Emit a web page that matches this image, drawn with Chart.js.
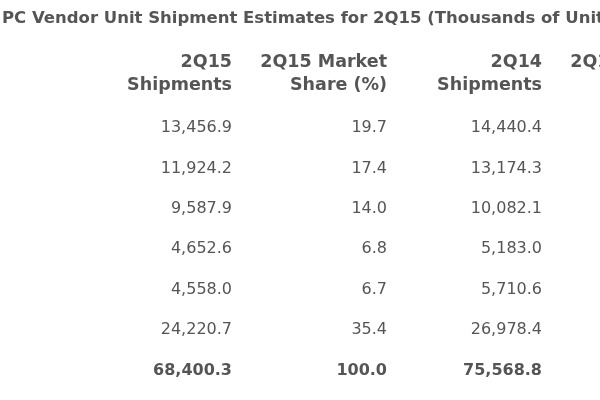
<!DOCTYPE html>
<html>
<head>
<meta charset="utf-8">
<script src="https://cdn.jsdelivr.net/npm/chart.js@4"></script>
<style>
  html, body { margin: 0; padding: 0; background: #fff; }
  #wrap { width: 600px; height: 400px; }
</style>
</head>
<body>
<div id="wrap"><canvas id="c"></canvas></div>
<script>
const TITLE = 'PC Vendor Unit Shipment Estimates for 2Q15 (Thousands of Units)';
const HEADERS = [
  ['2Q15', 'Shipments'],
  ['2Q15 Market', 'Share (%)'],
  ['2Q14', 'Shipments'],
  ['2Q14 Market', 'Share (%)']
];
const shipments2Q15 = ['13,456.9', '11,924.2', '9,587.9', '4,652.6', '4,558.0', '24,220.7', '68,400.3'];
const share2Q15 = ['19.7', '17.4', '14.0', '6.8', '6.7', '35.4', '100.0'];
const shipments2Q14 = ['14,440.4', '13,174.3', '10,082.1', '5,183.0', '5,710.6', '26,978.4', '75,568.8'];
const columns = [shipments2Q15, share2Q15, shipments2Q14];

const TEXT = '#555';
const FONT = '"DejaVu Sans", Verdana, sans-serif';

// one invisible point per cell; the plugin writes the text at its pixel position
const datasets = columns.map((col, ci) => ({
  label: HEADERS[ci].join(' '),
  data: col.map((v, ri) => ({ x: ci, y: ri, text: v })),
  pointRadius: 0,
  pointHoverRadius: 0
}));

const tablePlugin = {
  id: 'tableText',
  afterDatasetsDraw(chart) {
    const ctx = chart.ctx;
    const xs = chart.scales.x, ys = chart.scales.y;
    ctx.save();
    ctx.fillStyle = TEXT;
    ctx.textBaseline = 'middle';
    // title
    ctx.textAlign = 'left';
    ctx.font = 'bold 16.5px ' + FONT;
    ctx.fillText(TITLE, 2, 19);
    // headers
    ctx.textAlign = 'right';
    ctx.font = 'bold 17.5px ' + FONT;
    HEADERS.forEach((h, ci) => {
      const px = xs.getPixelForValue(ci);
      ctx.fillText(h[0], px, ys.getPixelForValue(-1.63));
      ctx.fillText(h[1], px, ys.getPixelForValue(-1.05));
    });
    // cells
    chart.data.datasets.forEach((ds, di) => {
      const meta = chart.getDatasetMeta(di);
      meta.data.forEach((pt, i) => {
        const last = i === ds.data.length - 1;
        ctx.font = (last ? 'bold ' : '') + '16px ' + FONT;
        ctx.fillText(ds.data[i].text, pt.x, pt.y);
      });
    });
    ctx.restore();
  }
};

new Chart(document.getElementById('c'), {
  type: 'scatter',
  data: { datasets },
  options: {
    responsive: true,
    maintainAspectRatio: false,
    animation: false,
    layout: { padding: 0 },
    plugins: { legend: { display: false }, tooltip: { enabled: false } },
    scales: {
      x: { type: 'linear', display: false, min: -232 / 155, max: (600 - 232) / 155 },
      y: { type: 'linear', display: false, reverse: true, min: -128 / 40.4, max: (400 - 128) / 40.4 }
    }
  },
  plugins: [tablePlugin]
});
</script>
</body>
</html>
